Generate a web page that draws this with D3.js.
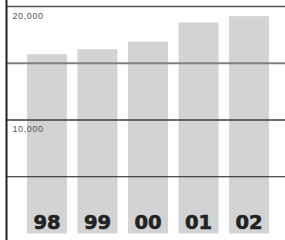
<!DOCTYPE html>
<html>
<head>
<meta charset="utf-8">
<script src="https://cdn.jsdelivr.net/npm/d3@7"></script>
<style>
  html, body { margin: 0; padding: 0; background: #fff; }
  svg { display: block; }
</style>
</head>
<body>
<div id="chart"></div>
<script>
// --- Data ---
const years = ['98', '99', '00', '01', '02'];
const values = [15800, 16250, 16900, 18600, 19150];
const gridValues = [20000, 15000, 10000, 5000];
const labelValues = [20000, 10000];

const W = 285, H = 240;

const svg = d3.select('#chart').append('svg')
    .attr('width', W)
    .attr('height', H);

// Scales
const x = d3.scaleBand().domain(years).range([21.75, 274.25]).paddingInner(0.208).paddingOuter(0.104);
const y = d3.scaleLinear().domain([0, 20000]).range([233.5, 6.5]);

// Bars
svg.selectAll('rect.bar').data(values).join('rect')
    .attr('class', 'bar')
    .attr('x', (d, i) => x(years[i]))
    .attr('y', d => y(d))
    .attr('width', x.bandwidth())
    .attr('height', d => y(0) - y(d))
    .attr('fill', '#d2d3d5');

// Gridlines (drawn over the bars)
const gridStyle = {
    20000: { stroke: '#555', width: 1.5 },
    15000: { stroke: '#808080', width: 2 },
    10000: { stroke: '#3a3a3a', width: 1.5 },
    5000: { stroke: '#1a1a1a', width: 1 }
};
svg.selectAll('line.grid').data(gridValues).join('line')
    .attr('class', 'grid')
    .attr('x1', 6).attr('x2', W)
    .attr('y1', d => y(d)).attr('y2', d => y(d))
    .attr('stroke', d => gridStyle[d].stroke)
    .attr('stroke-width', d => gridStyle[d].width);

// Left axis line
svg.append('line')
    .attr('x1', 6.5).attr('x2', 6.5)
    .attr('y1', 0).attr('y2', H)
    .attr('stroke', '#222')
    .attr('stroke-width', 2);

// Value labels under their gridline
svg.selectAll('text.val').data(labelValues).join('text')
    .attr('class', 'val')
    .attr('x', 12.5)
    .attr('y', d => y(d) + 12)
    .attr('font-family', 'Liberation Sans, Arial, sans-serif')
    .attr('font-size', 9)
    .attr('letter-spacing', 0.6)
    .attr('fill', '#555')
    .text(d => d3.format(',')(d));

// Year labels (heavy weight: bold + thin stroke)
svg.selectAll('text.year').data(years).join('text')
    .attr('class', 'year')
    .attr('x', d => x(d) + x.bandwidth() / 2)
    .attr('y', 229)
    .attr('text-anchor', 'middle')
    .attr('font-family', 'DejaVu Sans, sans-serif')
    .attr('font-weight', 'bold')
    .attr('font-size', 19.5)
    .attr('fill', '#222')
    .attr('stroke', '#222')
    .attr('stroke-width', 0.6)
    .text(d => d);
</script>
</body>
</html>
